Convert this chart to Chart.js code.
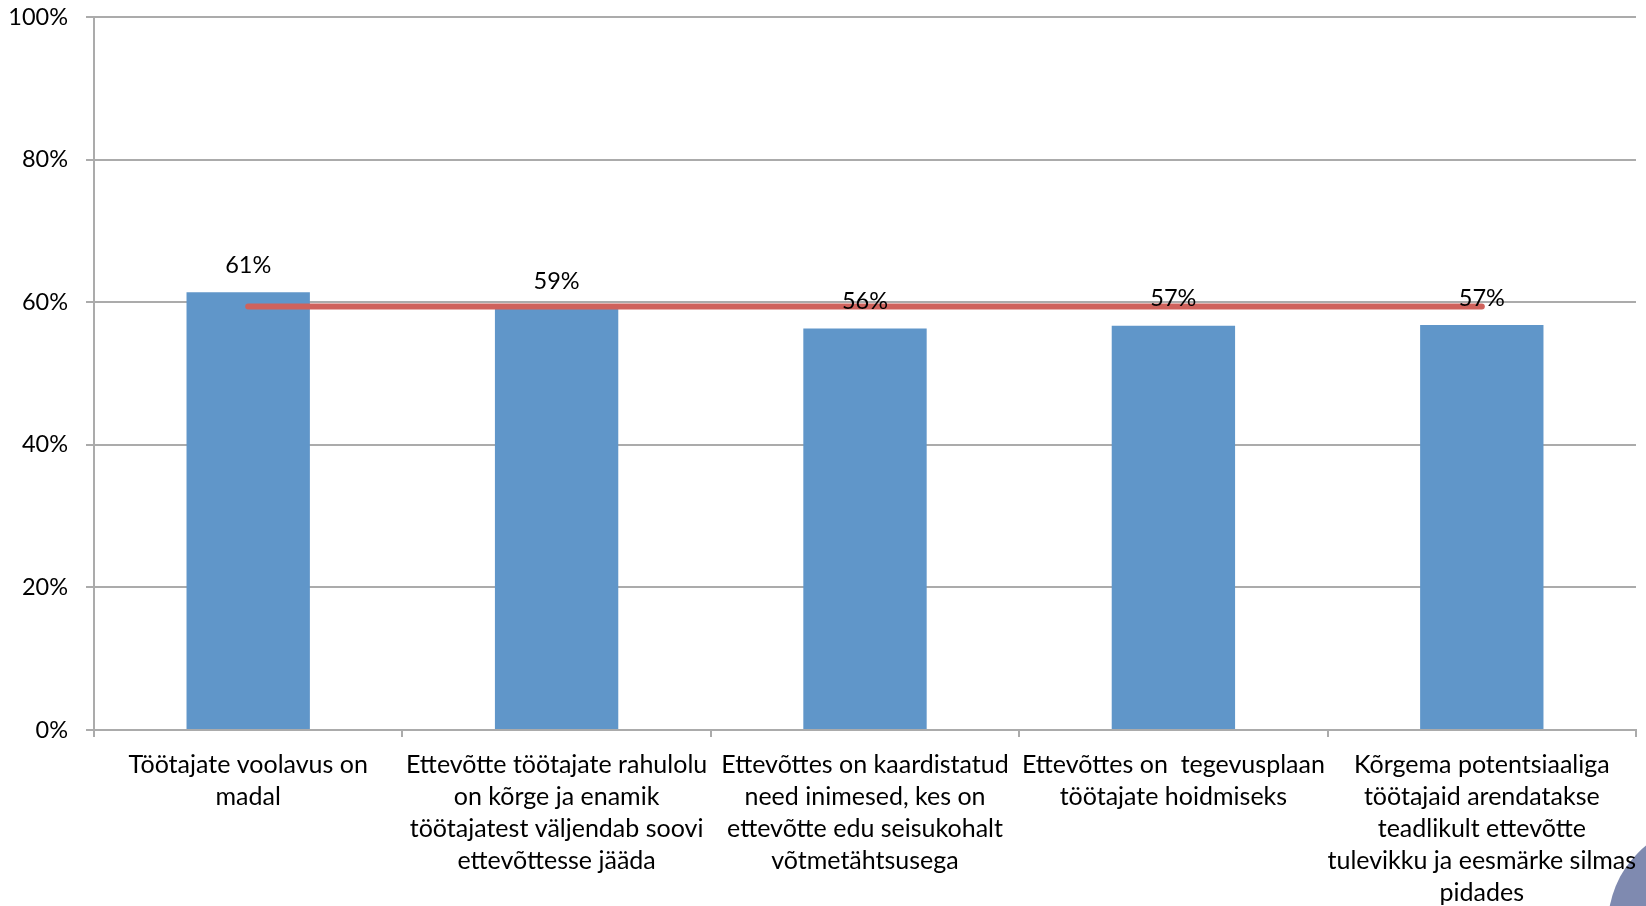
<!DOCTYPE html>
<html>
<head>
<meta charset="utf-8">
<script src="https://cdn.jsdelivr.net/npm/chart.js@4/dist/chart.umd.min.js"></script>
<style>
  html, body { margin: 0; padding: 0; background: #ffffff; overflow: hidden; }
  #wrap { position: relative; width: 1646px; height: 906px; overflow: hidden; }
  #deco { position: absolute; left: 1608px; top: 823px; width: 204px; height: 204px; border-radius: 50%; background: #7F8AB0; }
  canvas { position: absolute; left: 0; top: 0; }
</style>
</head>
<body>
<div id="wrap">
  <div id="deco"></div>
  <canvas id="c" width="1646" height="906"></canvas>
</div>
<script>
// ---- data ----
const categories = [
  ["Töötajate voolavus on", "madal"],
  ["Ettevõtte töötajate rahulolu", "on kõrge ja enamik", "töötajatest väljendab soovi", "ettevõttesse jääda"],
  ["Ettevõttes on kaardistatud", "need inimesed, kes on", "ettevõtte edu seisukohalt", "võtmetähtsusega"],
  ["Ettevõttes on  tegevusplaan", "töötajate hoidmiseks"],
  ["Kõrgema potentsiaaliga", "töötajaid arendatakse", "teadlikult ettevõtte", "tulevikku ja eesmärke silmas", "pidades"]
];
const barValues = [0.614, 0.591, 0.563, 0.567, 0.568];
const averageValues = [0.594, 0.594, 0.594, 0.594, 0.594];
const yTickValues = [0, 0.2, 0.4, 0.6, 0.8, 1.0];

const FONT = 'Lato';
const FS_X = 25;
const FS_NUM = 23.5;
const gridColor = '#ABABAB';

const dataLabels = {
  id: 'dataLabels',
  afterDatasetsDraw(chart) {
    const ctx = chart.ctx;
    const idx = chart.data.datasets.findIndex(d => d.type === 'bar');
    const meta = chart.getDatasetMeta(idx);
    ctx.save();
    ctx.font = FS_NUM + 'px ' + FONT;
    ctx.fillStyle = '#000000';
    ctx.textAlign = 'center';
    ctx.textBaseline = 'middle';
    meta.data.forEach((el, i) => {
      const v = chart.data.datasets[idx].data[i];
      ctx.fillText(Math.round(v * 100) + '%', el.x, el.y - 27);
    });
    ctx.restore();
  }
};

new Chart(document.getElementById('c'), {
  type: 'bar',
  data: {
    labels: categories,
    datasets: [
      {
        type: 'line',
        data: averageValues,
        borderColor: '#CF625C',
        borderWidth: 6,
        borderCapStyle: 'round',
        pointRadius: 0,
        fill: false,
        order: 0
      },
      {
        type: 'bar',
        data: barValues,
        backgroundColor: '#6096C9',
        borderWidth: 0,
        barPercentage: 0.4,
        categoryPercentage: 1.0,
        order: 1
      }
    ]
  },
  options: {
    responsive: false,
    animation: false,
    layout: { padding: { top: 17, right: 10, left: 0, bottom: 0 } },
    plugins: { legend: { display: false }, tooltip: { enabled: false } },
    scales: {
      x: {
        offset: true,
        grid: { offset: true, drawOnChartArea: false, drawTicks: true, tickLength: 7, color: gridColor, lineWidth: 2 },
        border: { color: gridColor, width: 2 },
        ticks: {
          color: '#000000',
          padding: 12,
          maxRotation: 0,
          autoSkip: false,
          font: { family: FONT, size: FS_X, lineHeight: 32 / FS_X }
        },
        afterFit(scale) { scale.height = 176; scale.paddingRight = 0; }
      },
      y: {
        min: 0,
        max: 1,
        afterBuildTicks(scale) { scale.ticks = yTickValues.map(v => ({ value: v })); },
        grid: { color: gridColor, lineWidth: 2, tickLength: 8 },
        border: { color: gridColor, width: 2 },
        ticks: {
          color: '#000000',
          padding: 18,
          font: { family: FONT, size: FS_NUM },
          callback: v => Math.round(v * 100) + '%'
        },
        afterFit(scale) { scale.width = 94; scale.paddingTop = 0; scale.paddingBottom = 0; }
      }
    }
  },
  plugins: [dataLabels]
});
</script>
</body>
</html>
